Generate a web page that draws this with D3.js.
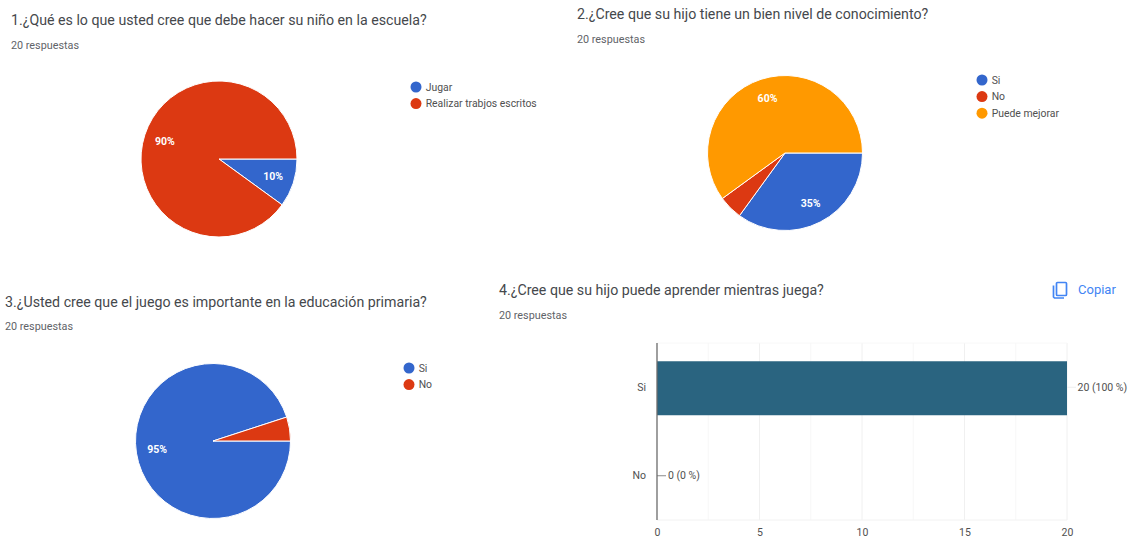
<!DOCTYPE html>
<html>
<head>
<meta charset="utf-8">
<script src="https://cdn.jsdelivr.net/npm/d3@7"></script>
<style>
  html, body { margin: 0; padding: 0; background: #fff; }
  svg { display: block; }
  text { font-family: Roboto, Arial, sans-serif; }
</style>
</head>
<body>
<svg id="chart" width="1133" height="545"></svg>
<script>
// Survey answers, counted out of 20 responses per question
const responseNote = "20 respuestas";

const q1Title = "1.¿Qué es lo que usted cree que debe hacer su niño en la escuela?";
const q1Labels = ["Jugar", "Realizar trabjos escritos"];
const q1Values = [2, 18];

const q2Title = "2.¿Cree que su hijo tiene un bien nivel de conocimiento?";
const q2Labels = ["Si", "No", "Puede mejorar"];
const q2Values = [7, 1, 12];

const q3Title = "3.¿Usted cree que el juego es importante en la educación primaria?";
const q3Labels = ["Si", "No"];
const q3Values = [19, 1];

const q4Title = "4.¿Cree que su hijo puede aprender mientras juega?";
const q4Labels = ["Si", "No"];
const q4Values = [20, 0];
const q4ValueLabels = ["20 (100 %)", "0 (0 %)"];
const q4Ticks = [0, 5, 10, 15, 20];
const q4MinorTicks = [2.5, 7.5, 12.5, 17.5];

const sliceColors = ["#3366cc", "#dc3912", "#ff9900"];
const barColor = "#2a6480";
const inkTitle = "#45484c";
const inkSoft = "#505050";

const svg = d3.select("#chart");

function heading(x, y, title, noteY) {
  svg.append("text").attr("x", x).attr("y", y)
    .attr("font-size", 14.2).attr("fill", inkTitle).text(title);
  svg.append("text").attr("x", x).attr("y", noteY)
    .attr("font-size", 10.8).attr("fill", "#5f6368").text(responseNote);
}

function pieChart(cfg) {
  const total = d3.sum(cfg.values);
  // Slices run clockwise from three o'clock
  const layout = d3.pie().sort(null)
    .startAngle(Math.PI / 2).endAngle(Math.PI * 2.5)(cfg.values);
  const arc = d3.arc().innerRadius(0).outerRadius(cfg.r);
  const g = svg.append("g").attr("transform", `translate(${cfg.cx},${cfg.cy})`);
  g.selectAll("path").data(layout).join("path")
    .attr("d", arc)
    .attr("fill", (d, i) => sliceColors[i])
    .attr("stroke", "#fff").attr("stroke-width", 1);

  // Percent labels sit inside the slices, small slices get none
  const labelArc = d3.arc().innerRadius(cfg.r * 0.73).outerRadius(cfg.r * 0.73);
  g.selectAll("text").data(layout.filter(d => d.value / total >= 0.1)).join("text")
    .attr("transform", d => `translate(${labelArc.centroid(d)})`)
    .attr("text-anchor", "middle").attr("dy", "0.3em")
    .attr("font-size", 10.5).attr("font-weight", 700).attr("fill", "#fff")
    .text(d => Math.round(d.value / total * 100) + "%");

  // Legend
  const rows = svg.append("g").selectAll("g").data(cfg.labels).join("g")
    .attr("transform", (d, i) => `translate(${cfg.lx},${cfg.ly + i * 16.6})`);
  rows.append("circle").attr("r", 5.5).attr("fill", (d, i) => sliceColors[i]);
  rows.append("text").attr("x", 9.7).attr("dy", "0.35em")
    .attr("font-size", 10.4).attr("fill", inkSoft).text(d => d);
}

heading(11, 25, q1Title, 49);
pieChart({ values: q1Values, labels: q1Labels, cx: 219, cy: 159, r: 78, lx: 416, ly: 87 });

heading(577, 19, q2Title, 42.5);
pieChart({ values: q2Values, labels: q2Labels, cx: 785, cy: 153, r: 77.5, lx: 982, ly: 80 });

heading(5, 307, q3Title, 330);
pieChart({ values: q3Values, labels: q3Labels, cx: 213, cy: 441, r: 77.5, lx: 409, ly: 368 });

heading(499, 295, q4Title, 319);

// Horizontal bar question
const x = d3.scaleLinear().domain([0, 20]).range([657, 1067]);
const y = d3.scaleBand().domain(q4Labels).range([344, 521]).paddingInner(0.39).paddingOuter(0.195);
const plot = svg.append("g");

plot.selectAll("line.minor").data(q4MinorTicks).join("line").attr("class", "minor")
  .attr("x1", d => x(d)).attr("x2", d => x(d)).attr("y1", 343).attr("y2", 520)
  .attr("stroke", "#f7f7f7");
plot.selectAll("line.major").data(q4Ticks.slice(1)).join("line").attr("class", "major")
  .attr("x1", d => x(d)).attr("x2", d => x(d)).attr("y1", 343).attr("y2", 520)
  .attr("stroke", "#f0f0f0");
plot.append("line").attr("x1", x(0)).attr("x2", x(20)).attr("y1", 520).attr("y2", 520)
  .attr("stroke", "#f2f2f2");
plot.append("line").attr("x1", x(0)).attr("x2", x(20)).attr("y1", 343).attr("y2", 343)
  .attr("stroke", "#f8f8f8");

plot.selectAll("rect").data(q4Values).join("rect")
  .attr("x", x(0)).attr("y", (d, i) => y(q4Labels[i]))
  .attr("width", d => x(d) - x(0)).attr("height", y.bandwidth())
  .attr("fill", barColor);

const axisBottom = d3.axisBottom(x).tickValues(q4Ticks).tickSize(0).tickPadding(8.5);
const xAxis = svg.append("g").attr("transform", "translate(0,520)").call(axisBottom);
xAxis.select(".domain").remove();
xAxis.selectAll("text").attr("font-size", 10.5).attr("fill", inkSoft).attr("font-family", "Roboto");

const axisLeft = d3.axisLeft(y).tickSize(0).tickPadding(11);
const yAxis = svg.append("g").attr("transform", `translate(${x(0)},-1)`).call(axisLeft);
yAxis.select(".domain").attr("stroke", "#6b6b6b").attr("stroke-width", 1.3)
  .attr("d", `M0,344V521`);
yAxis.selectAll("text").attr("font-size", 10.5).attr("fill", inkSoft).attr("font-family", "Roboto");

// Value callouts with their short leader lines
q4Values.forEach((v, i) => {
  const cy = y(q4Labels[i]) + y.bandwidth() / 2 - 1;
  plot.append("line").attr("x1", x(v)).attr("x2", x(v) + 9).attr("y1", cy).attr("y2", cy)
    .attr("stroke", v > 0 ? "#eeeeee" : "#8a8a8a");
  plot.append("text").attr("x", x(v) + (v > 0 ? 10.5 : 11)).attr("y", cy).attr("dy", "0.35em")
    .attr("font-size", 10.5).attr("fill", inkSoft).text(q4ValueLabels[i]);
});

// Copy button: two overlapping page outlines and its caption
const copy = svg.append("g").attr("transform", "translate(1053,282)")
  .attr("fill", "none").attr("stroke", "#4285f4").attr("stroke-width", 1.7);
copy.append("rect").attr("x", 3.5).attr("y", 0.5).attr("width", 10).attr("height", 13).attr("rx", 1);
copy.append("path").attr("d", d3.line()([[0.5, 3.5], [0.5, 15], [1.5, 16], [11, 16]]));
svg.append("text").attr("x", 1078).attr("y", 294)
  .attr("font-size", 13).attr("fill", "#4285f4").text("Copiar");
</script>
</body>
</html>
